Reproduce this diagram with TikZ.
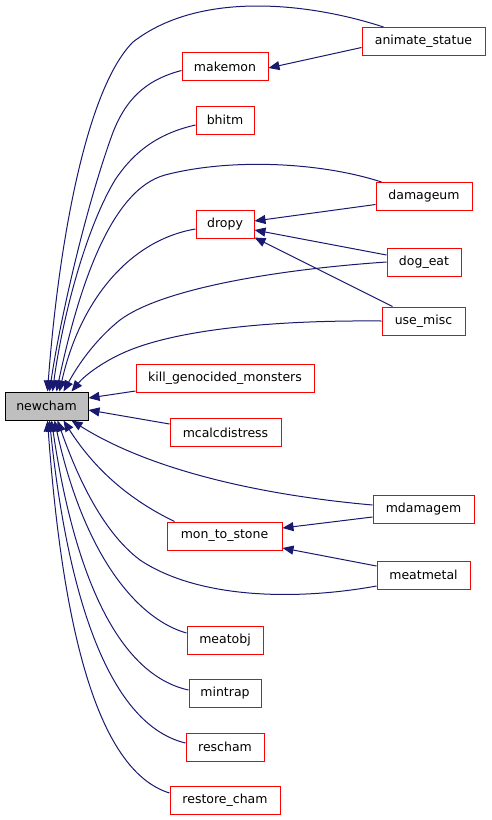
\documentclass[tikz,border=0pt]{standalone}
\usepackage{fontspec}
\setmainfont{DejaVu Sans}
\usetikzlibrary{arrows.meta,calc}
\definecolor{edgeblue}{HTML}{191970}
\definecolor{boxred}{HTML}{FF0000}
\definecolor{mainfill}{HTML}{BFBFBF}
\begin{document}
\begin{tikzpicture}[x=1pt,y=-1pt,
  fn/.style={draw=boxred,fill=white,line width=1pt,inner sep=0pt,minimum height=28pt,
    font=\fontsize{12.5}{15}\selectfont,text=black},
  mainnode/.style={fn,draw=black,fill=mainfill},
  edge/.style={draw=edgeblue,line width=1pt,-{Triangle[length=11pt,width=9pt]}}]
\fill[white] (0,0) rectangle (491,820);
\useasboundingbox (0,0) rectangle (491,820);
% nodes
\node[mainnode,minimum width=83pt] (newcham) at (46.5,406) {newcham};
\node[fn,minimum width=123pt] (animate) at (423.5,41.5) {animate\_statue};
\node[fn,minimum width=86pt] (makemon) at (225,66.5) {makemon};
\node[fn,minimum width=58pt] (bhitm) at (225,120) {bhitm};
\node[fn,minimum width=96pt] (damageum) at (424,196.5) {damageum};
\node[fn,minimum width=58pt] (dropy) at (225,224) {dropy};
\node[fn,minimum width=74pt] (dogeat) at (424,262) {dog\_eat};
\node[fn,minimum width=83pt] (usemisc) at (423.5,321) {use\_misc};
\node[fn,minimum width=178pt] (kill) at (225,378.5) {kill\_genocided\_monsters};
\node[fn,minimum width=111pt] (mcalc) at (225.5,432.5) {mcalcdistress};
\node[fn,minimum width=101pt] (mdamagem) at (423.5,509) {mdamagem};
\node[fn,minimum width=115pt] (mts) at (224.5,536) {mon\_to\_stone};
\node[fn,minimum width=93pt] (meatmetal) at (423.5,575) {meatmetal};
\node[fn,minimum width=76pt] (meatobj) at (225,640) {meatobj};
\node[fn,minimum width=72pt] (mintrap) at (225,693.5) {mintrap};
\node[fn,minimum width=78pt] (rescham) at (225,747) {rescham};
\node[fn,minimum width=110pt] (restore) at (225,800) {restore\_cham};
% edges to newcham (top)
\draw[edge] ($(animate.north west)+(22,0)$) .. controls (310,3) and (200,-10) .. (133,42)
   .. controls (85,90) and (58,250) .. ($(newcham.north west)+(43,0)$);
\draw[edge] ($(makemon.west)+(0,4)$) .. controls (145,80) and (125,100) .. (112,135)
   .. controls (85,210) and (60,320) .. ($(newcham.north west)+(45,0)$);
\draw[edge] ($(bhitm.west)+(0,5)$) .. controls (160,133) and (135,150) .. (115,180)
   .. controls (85,230) and (62,320) .. ($(newcham.north west)+(48,0)$);
\draw[edge] ($(damageum.north west)+(6,0)$) .. controls (320,162) and (230,158) .. (165,175)
   .. controls (110,190) and (78,290) .. ($(newcham.north west)+(52,0)$);
\draw[edge] ($(dropy.west)+(0,5)$) .. controls (130,240) and (80,300) .. ($(newcham.north west)+(55,0)$);
\draw[edge] ($(dogeat.west)$) .. controls (270,270) and (160,290) .. (120,320)
   .. controls (95,340) and (78,365) .. ($(newcham.north west)+(59,0)$);
\draw[edge] (usemisc.west) .. controls (270,320) and (180,330) .. (130,350)
   .. controls (105,360) and (85,375) .. ($(newcham.north west)+(67,0)$);
% right side of newcham
\draw[edge] ($(kill.south west)+(0,-2)$) -- ($(newcham.east)+(0,-8)$);
\draw[edge] ($(mcalc.west)+(0,-8.5)$) -- ($(newcham.east)+(0,4)$);
% bottom of newcham
\draw[edge] ($(mdamagem.west)+(0,-4)$) .. controls (260,495) and (150,470) .. ($(newcham.south west)+(67,0)$);
\draw[edge] ($(mts.north west)+(8,0)$) .. controls (130,500) and (95,470) .. ($(newcham.south west)+(59,0)$);
\draw[edge] ($(meatmetal.west)+(0,11)$) .. controls (300,600) and (200,600) .. (140,560)
   .. controls (100,530) and (75,470) .. ($(newcham.south west)+(53,0)$);
\draw[edge] ($(meatobj.west)+(0,-7)$) .. controls (140,620) and (85,560) .. ($(newcham.south west)+(50,0)$);
\draw[edge] ($(mintrap.west)+(0,-3.5)$) .. controls (120,675) and (75,580) .. ($(newcham.south west)+(47,0)$);
\draw[edge] ($(rescham.west)+(0,-4)$) .. controls (110,725) and (68,600) .. ($(newcham.south west)+(45,0)$);
\draw[edge] ($(restore.west)+(0,-7)$) .. controls (95,770) and (62,620) .. ($(newcham.south west)+(43,0)$);
% right-side edges
\draw[edge] ($(animate.west)+(0,6)$) -- ($(makemon.east)+(0,1.5)$);
\draw[edge] ($(damageum.west)+(0,8)$) -- ($(dropy.east)+(0,-3)$);
\draw[edge] ($(dogeat.west)+(0,-7)$) -- ($(dropy.east)+(0,6)$);
\draw[edge] ($(usemisc.north west)+(11,0)$) -- ($(dropy.south east)+(0,-1)$);
\draw[edge] ($(mdamagem.west)+(0,8)$) -- ($(mts.east)+(0,-8)$);
\draw[edge] ($(meatmetal.west)+(0,-9)$) -- ($(mts.east)+(0,12)$);
\end{tikzpicture}
\end{document}
